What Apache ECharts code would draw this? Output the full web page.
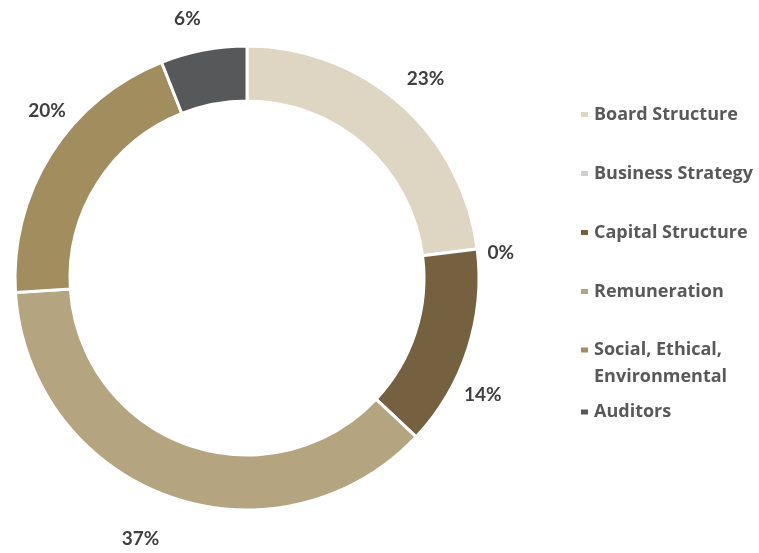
<!DOCTYPE html>
<html><head><meta charset="utf-8">
<script src="https://cdn.jsdelivr.net/npm/echarts@6/dist/echarts.min.js"></script>
<style>html,body{margin:0;padding:0;background:#fff}#c{width:759px;height:553px}</style>
</head><body><div id="c"></div>
<script>
const categories = ['Board Structure', 'Business Strategy', 'Capital Structure', 'Remuneration', 'Social, Ethical,\nEnvironmental', 'Auditors'];
const shares = [23, 0, 14, 37, 20, 6];
const colors = ['#DED5C2', '#D0D0D2', '#756140', '#B4A580', '#A18D5E', '#57585A'];
const labelNudge = [[0, 3], [-14, 9], [-21, 33], [-15, 7], [28, -22], [-9, 6]];

const chart = echarts.init(document.getElementById('c'), null, {renderer: 'canvas'});
const legendFont = {fontFamily: 'Open Sans', fontWeight: 'bold', fontSize: 18, color: '#595959', lineHeight: 27};
const mkLegend = (names, top, fmt) => ({
  orient: 'vertical', left: 579, top: top, padding: 0, itemWidth: 9, itemHeight: 7, itemGap: 32,
  icon: 'rect', selectedMode: false,
  textStyle: legendFont,
  formatter: fmt || (n => n),
  data: names
});
chart.setOption({
  animation: false,
  color: colors,
  legend: [
    mkLegend(categories.slice(0, 4), 101),
    mkLegend([categories[4]], 309.5, n => ' \n' + n),
    mkLegend([categories[5]], 398.5)
  ],
  series: [
    {
      type: 'pie', center: [247, 278], radius: [177, 232], startAngle: 90, clockwise: true,
      avoidLabelOverlap: false, label: {show: false}, labelLine: {show: false},
      itemStyle: {borderColor: '#fff', borderWidth: 3},
      emphasis: {disabled: true},
      data: categories.map((n, i) => ({name: n, value: shares[i]}))
    },
    {
      type: 'pie', center: [247, 278], radius: [252, 282], startAngle: 90, clockwise: true,
      silent: true, avoidLabelOverlap: false, labelLine: {show: false},
      itemStyle: {color: 'transparent', borderWidth: 0},
      emphasis: {disabled: true},
      label: {show: true, position: 'inside', formatter: p => p.value + '%',
        fontFamily: 'Lato', fontWeight: 'bold', fontSize: 19, color: '#404040'},
      data: categories.map((n, i) => ({name: n, value: shares[i], label: {offset: labelNudge[i]}}))
    }
  ]
});
</script></body></html>
